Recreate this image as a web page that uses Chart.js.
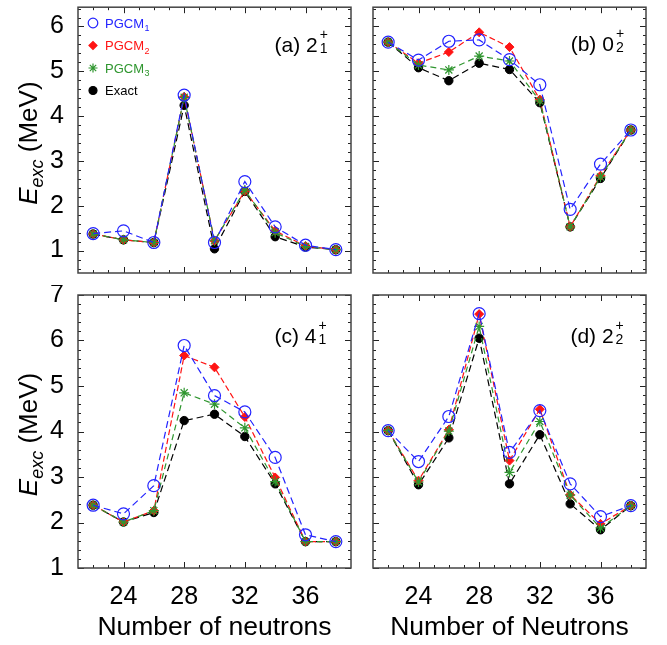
<!DOCTYPE html>
<html>
<head>
<meta charset="utf-8">
<script src="https://cdn.jsdelivr.net/npm/chart.js@4.4.1/dist/chart.umd.min.js"></script>
<style>
  body { margin: 0; background: #fff; }
  #wrap { position: relative; width: 667px; height: 645px; overflow: hidden; }
  canvas { position: absolute; }
</style>
</head>
<body>
<div id="wrap">
  <canvas id="panelA" width="362" height="285" style="left:0;top:0"></canvas>
  <canvas id="panelB" width="305" height="285" style="left:362px;top:0"></canvas>
  <canvas id="panelC" width="362" height="360" style="left:0;top:285px"></canvas>
  <canvas id="panelD" width="305" height="360" style="left:362px;top:285px"></canvas>
</div>
<script>
// Neutron numbers on the x axis
const neutrons = [22, 24, 26, 28, 30, 32, 34, 36, 38];
const xTickLabels = [24, 28, 32, 36];
const yTicksTop = [1, 2, 3, 4, 5, 6];
const yTicksBottom = [1, 2, 3, 4, 5, 6, 7];

// (a) 2+_1
const pgcm1A = [1.38, 1.44, 1.18, 4.47, 1.18, 2.54, 1.53, 1.12, 1.02];
const pgcm2A = [1.37, 1.24, 1.18, 4.43, 1.22, 2.33, 1.44, 1.10, 1.02];
const pgcm3A = [1.37, 1.24, 1.18, 4.42, 1.22, 2.35, 1.40, 1.09, 1.02];
const exactA = [1.37, 1.24, 1.18, 4.24, 1.04, 2.32, 1.31, 1.08, 1.02];

// (b) 0+_2
const pgcm1B = [5.65, 5.25, 5.67, 5.70, 5.26, 4.70, 1.92, 2.93, 3.69];
const pgcm2B = [5.65, 5.18, 5.43, 5.87, 5.54, 4.37, 1.53, 2.67, 3.69];
const pgcm3B = [5.65, 5.14, 5.03, 5.34, 5.23, 4.34, 1.53, 2.64, 3.69];
const exactB = [5.65, 5.08, 4.79, 5.18, 5.04, 4.30, 1.53, 2.61, 3.69];

// (c) 4+_1
const pgcm1C = [2.38, 2.19, 2.81, 5.89, 4.79, 4.43, 3.43, 1.73, 1.58];
const pgcm2C = [2.38, 2.01, 2.26, 5.67, 5.41, 4.32, 2.99, 1.58, 1.58];
const pgcm3C = [2.38, 2.01, 2.26, 4.85, 4.60, 4.08, 2.90, 1.58, 1.58];
const exactC = [2.38, 2.01, 2.22, 4.24, 4.38, 3.89, 2.85, 1.58, 1.58];

// (d) 2+_2
const pgcm1D = [4.02, 3.34, 4.33, 6.59, 3.54, 4.46, 2.85, 2.13, 2.37];
const pgcm2D = [4.02, 2.92, 4.04, 6.58, 3.36, 4.49, 2.61, 1.97, 2.37];
const pgcm3D = [4.02, 2.89, 4.01, 6.31, 3.10, 4.22, 2.60, 1.88, 2.37];
const exactD = [4.02, 2.83, 3.86, 6.05, 2.85, 3.93, 2.41, 1.84, 2.37];

const FONT = "'Liberation Sans', Arial, Helvetica, sans-serif";
Chart.defaults.font.family = FONT;
Chart.defaults.color = '#000';

const BLUE = '#2323ff';
const RED = '#ff1414';
const GREEN = '#2f962f';
const BLACK = '#000000';

function toPoints(arr) {
    return neutrons.map((n, i) => ({ x: n, y: arr[i] }));
}

function buildDatasets(p1, p2, p3, ex) {
    return [
        {
            label: 'PGCM1', data: toPoints(p1), order: 1,
            borderColor: BLUE, borderWidth: 1.2, borderDash: [7, 4],
            pointStyle: 'circle', pointRadius: 6, pointBorderWidth: 1.2,
            pointBorderColor: BLUE, pointBackgroundColor: 'rgba(0,0,0,0)'
        },
        {
            label: 'PGCM2', data: toPoints(p2), order: 3,
            borderColor: RED, borderWidth: 1.2, borderDash: [6, 3],
            pointStyle: 'rectRot', pointRadius: 4.5, pointBorderWidth: 1,
            pointBorderColor: RED, pointBackgroundColor: RED
        },
        {
            label: 'PGCM3', data: toPoints(p3), order: 2,
            borderColor: GREEN, borderWidth: 1.2, borderDash: [6, 4],
            pointStyle: 'star', pointRadius: 5, pointBorderWidth: 1.2,
            pointBorderColor: GREEN, pointBackgroundColor: GREEN
        },
        {
            label: 'Exact', data: toPoints(ex), order: 4,
            borderColor: BLACK, borderWidth: 1.2, borderDash: [7, 4],
            pointStyle: 'circle', pointRadius: 4.2, pointBorderWidth: 1,
            pointBorderColor: BLACK, pointBackgroundColor: BLACK
        }
    ];
}

// frame with inward major/minor ticks on all four sides
const frameTicks = {
    id: 'frameTicks',
    afterDatasetsDraw(chart) {
        const { ctx, chartArea: a, scales: { x, y } } = chart;
        ctx.save();
        ctx.strokeStyle = '#222';
        ctx.lineWidth = 1;
        ctx.beginPath();
        for (let v = x.min + 1; v < x.max; v++) {
            const px = Math.round(x.getPixelForValue(v)) + 0.5;
            const len = xTickLabels.includes(v) ? 6 : 3;
            ctx.moveTo(px, a.bottom); ctx.lineTo(px, a.bottom - len);
            ctx.moveTo(px, a.top); ctx.lineTo(px, a.top + len);
        }
        for (let k = Math.ceil(y.min * 5); k <= Math.floor(y.max * 5); k++) {
            const py = Math.round(y.getPixelForValue(k / 5)) + 0.5;
            const len = k % 5 === 0 ? 6 : 3;
            ctx.moveTo(a.left, py); ctx.lineTo(a.left + len, py);
            ctx.moveTo(a.right, py); ctx.lineTo(a.right - len, py);
        }
        ctx.stroke();
        ctx.strokeStyle = '#444';
        ctx.lineWidth = 1.5;
        ctx.strokeRect(a.left, a.top, a.right - a.left, a.bottom - a.top);
        ctx.restore();
    }
};

// "(a) 2" with stacked superscript + and subscript index
const panelLabel = {
    id: 'panelLabel',
    afterDraw(chart, args, o) {
        const ctx = chart.ctx;
        ctx.save();
        ctx.fillStyle = '#000';
        ctx.textBaseline = 'alphabetic';
        ctx.textAlign = 'left';
        ctx.font = '21px ' + FONT;
        ctx.fillText(o.main, o.x, o.y);
        const w = ctx.measureText(o.main).width;
        ctx.font = '14px ' + FONT;
        ctx.fillText('+', o.x + w + 2, o.y - 13);
        ctx.fillText(o.sub, o.x + w + 2, o.y + 1);
        ctx.restore();
    }
};

// rotated E_exc (MeV) title
const yTitle = {
    id: 'yTitle',
    afterDraw(chart, args, o) {
        if (!o.show) return;
        const { ctx, chartArea: a } = chart;
        const parts = [
            { t: 'E', font: 'italic 26px ' + FONT, dy: 0 },
            { t: 'exc', font: 'italic 18px ' + FONT, dy: 6 },
            { t: ' (MeV)', font: '26px ' + FONT, dy: 0 }
        ];
        ctx.save();
        let total = 0;
        parts.forEach(p => { ctx.font = p.font; p.w = ctx.measureText(p.t).width; total += p.w; });
        ctx.translate(o.x, (a.top + a.bottom) / 2 + 3);
        ctx.rotate(-Math.PI / 2);
        ctx.fillStyle = '#000';
        ctx.textBaseline = 'alphabetic';
        let cx = -total / 2;
        parts.forEach(p => { ctx.font = p.font; ctx.fillText(p.t, cx, p.dy); cx += p.w; });
        ctx.restore();
    }
};

// legend drawn inside panel (a)
const innerLegend = {
    id: 'innerLegend',
    afterDraw(chart, args, o) {
        if (!o.show) return;
        const ctx = chart.ctx;
        const rows = [
            { name: 'PGCM', sub: '1', color: BLUE, style: 'circle', r: 4.8, fill: false, y: 23 },
            { name: 'PGCM', sub: '2', color: RED, style: 'rectRot', r: 4, fill: true, y: 45.5 },
            { name: 'PGCM', sub: '3', color: GREEN, style: 'star', r: 4.5, fill: false, y: 68 },
            { name: 'Exact', sub: '', color: BLACK, style: 'circle', r: 4, fill: true, y: 90.5 }
        ];
        ctx.save();
        rows.forEach(r => {
            ctx.strokeStyle = r.color;
            ctx.fillStyle = r.fill ? r.color : 'rgba(0,0,0,0)';
            ctx.lineWidth = 1.2;
            Chart.helpers.drawPoint(ctx, { pointStyle: r.style, radius: r.r, rotation: 0, borderWidth: 1.2 }, 93, r.y);
            ctx.fillStyle = r.color;
            ctx.textBaseline = 'alphabetic';
            ctx.font = '13px ' + FONT;
            ctx.fillText(r.name, 105, r.y + 4.6);
            const w = ctx.measureText(r.name).width;
            if (r.sub) {
                ctx.font = '9px ' + FONT;
                ctx.fillText(r.sub, 105 + w + 0.5, r.y + 8);
            }
        });
        ctx.restore();
    }
};

// keep the plot frames exactly where the layout padding puts them
function noLabelPadding(s) {
    s.paddingTop = 0;
    s.paddingBottom = 0;
    s.paddingLeft = 0;
    s.paddingRight = 0;
}

function makePanel(id, datasets, cfg) {
    const ctx = document.getElementById(id).getContext('2d');
    return new Chart(ctx, {
        type: 'line',
        data: { datasets: datasets },
        plugins: [frameTicks, panelLabel, yTitle, innerLegend],
        options: {
            responsive: false,
            animation: false,
            devicePixelRatio: 1,
            layout: { padding: cfg.padding },
            plugins: {
                legend: { display: false },
                tooltip: { enabled: false },
                panelLabel: cfg.label,
                yTitle: { show: cfg.showY, x: 37 },
                innerLegend: { show: !!cfg.legend }
            },
            scales: {
                x: {
                    type: 'linear', min: 21, max: 39,
                    display: cfg.showX,
                    afterBuildTicks: s => { s.ticks = xTickLabels.map(v => ({ value: v })); },
                    afterFit: s => { noLabelPadding(s); if (cfg.showX) s.height = 77; },
                    grid: { display: false, drawTicks: false },
                    border: { display: false },
                    ticks: { padding: 14, font: { size: 25 }, maxRotation: 0, autoSkip: false, color: '#000' },
                    title: { display: cfg.showX, text: cfg.xTitle, font: { size: 26.5 }, color: '#000', padding: { top: 0, bottom: 1 } }
                },
                y: {
                    type: 'linear', min: cfg.yMin, max: cfg.yMax,
                    display: cfg.showY,
                    afterBuildTicks: s => { s.ticks = cfg.yTicks.map(v => ({ value: v })); },
                    afterFit: s => { noLabelPadding(s); if (cfg.showY) s.width = 78; },
                    grid: { display: false, drawTicks: false },
                    border: { display: false },
                    ticks: { padding: 14, font: { size: 25 }, color: '#000' }
                }
            }
        }
    });
}

makePanel('panelA', buildDatasets(pgcm1A, pgcm2A, pgcm3A, exactA), {
    padding: { left: 0, right: 11, top: 3, bottom: 12 },
    showX: false, showY: true, yMin: 0.5, yMax: 6.43, yTicks: yTicksTop, legend: true,
    label: { main: '(a) 2', sub: '1', x: 274.5, y: 51.5 }
});
makePanel('panelB', buildDatasets(pgcm1B, pgcm2B, pgcm3B, exactB), {
    padding: { left: 11, right: 21, top: 3, bottom: 12 },
    showX: false, showY: false, yMin: 0.5, yMax: 6.43, yTicks: yTicksTop,
    label: { main: '(b) 0', sub: '2', x: 208.7, y: 50.8 }
});
makePanel('panelC', buildDatasets(pgcm1C, pgcm2C, pgcm3C, exactC), {
    padding: { left: 0, right: 11, top: 10, bottom: 0 },
    showX: true, showY: true, yMin: 1, yMax: 7, yTicks: yTicksBottom, xTitle: 'Number of neutrons',
    label: { main: '(c) 4', sub: '1', x: 274.5, y: 57.5 }
});
makePanel('panelD', buildDatasets(pgcm1D, pgcm2D, pgcm3D, exactD), {
    padding: { left: 11, right: 21, top: 10, bottom: 0 },
    showX: true, showY: false, yMin: 1, yMax: 7, yTicks: yTicksBottom, xTitle: 'Number of Neutrons',
    label: { main: '(d) 2', sub: '2', x: 208.4, y: 58 }
});
</script>
</body>
</html>
